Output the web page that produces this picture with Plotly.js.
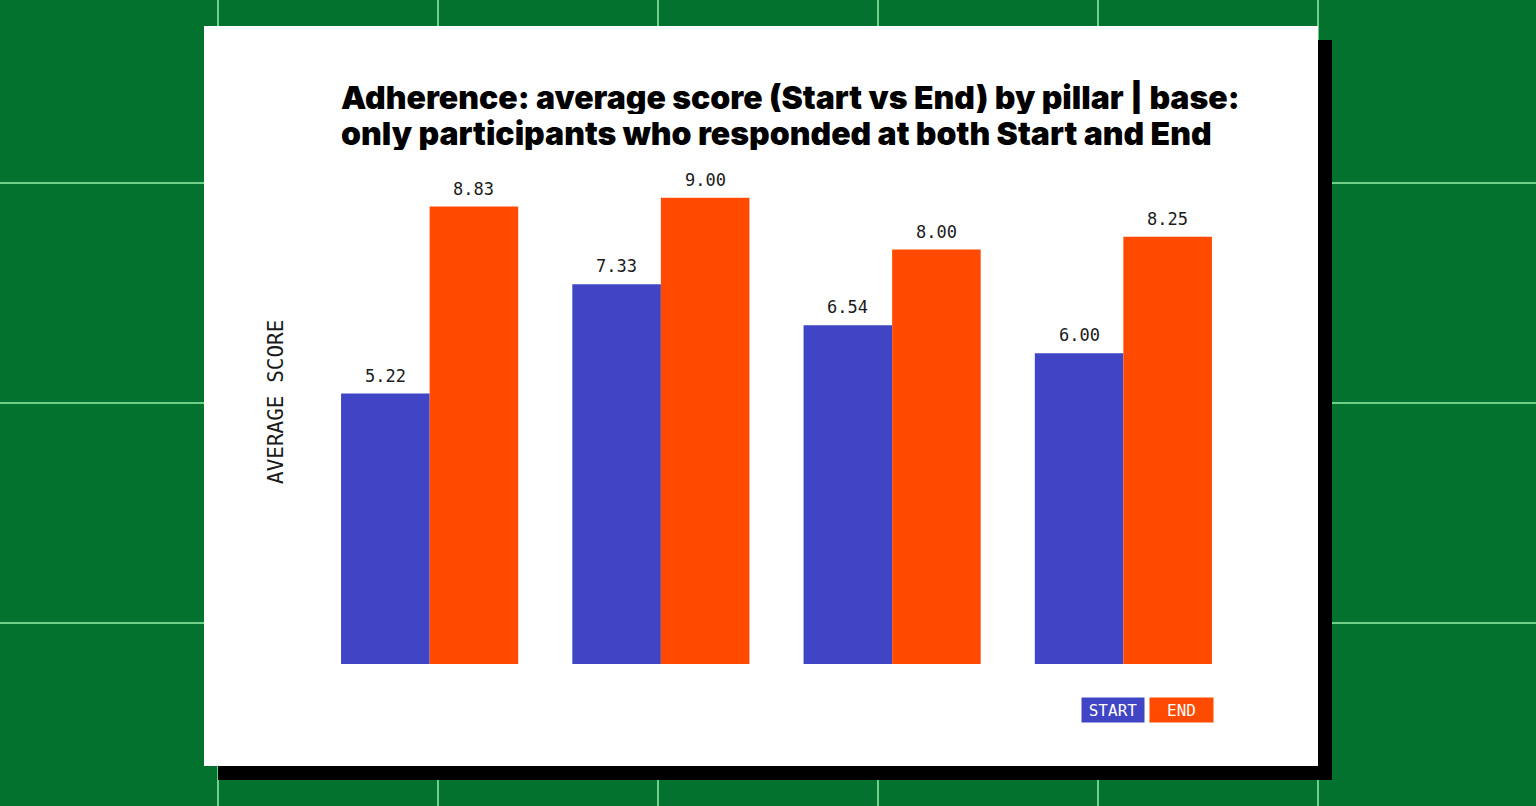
<!DOCTYPE html>
<html>
<head>
<meta charset="utf-8">
<script src="https://cdn.plot.ly/plotly-3.0.1.min.js"></script>
<style>
  html, body { margin: 0; padding: 0; width: 1536px; height: 806px; overflow: hidden; }
  body {
    background-color: #03722f;
    background-image:
      linear-gradient(to right, #6fcf86 0, #6fcf86 2px, transparent 2px),
      linear-gradient(to bottom, #6fcf86 0, #6fcf86 2px, transparent 2px);
    background-size: 220px 100%, 100% 220px;
    background-position: 217px 0, 0 182px;
    position: relative;
  }
  #shadow { position: absolute; left: 218px; top: 40px; width: 1114px; height: 740px; background: #000; }
  #card { position: absolute; left: 204px; top: 26px; width: 1114px; height: 740px; background: #fff; }
  #chart { position: absolute; left: 0; top: 0; width: 1536px; height: 806px; }
</style>
</head>
<body>
<div id="shadow"></div>
<div id="card"></div>
<div id="chart"></div>
<script>
// Average adherence score per pillar, Start vs End
const pillars = ["Pillar 1", "Pillar 2", "Pillar 3", "Pillar 4"];
const startScores = [5.22, 7.33, 6.54, 6.00];
const endScores = [8.83, 9.00, 8.00, 8.25];
const seriesNames = ["START", "END"];
const titleLines = [
  "Adherence: average score (Start vs End) by pillar | base:",
  "only participants who responded at both Start and End"
];

const BLUE = "#3f45c4";
const ORANGE = "#ff4a00";
const MONO = "DejaVu Sans Mono, Liberation Mono, monospace";
const HEAVY = "Inter, Roboto, sans-serif";

const W = 1536, H = 806;
const plotL = 314, plotR = 1239, plotT = 172, plotB = 664;
const pw = plotR - plotL, ph = plotB - plotT;
const px = x => (x - plotL) / pw;
const py = y => (plotB - y) / ph;

const labelFont = { family: MONO, size: 17, color: "#1a1a1a" };

const traces = [
  { type: "bar", name: seriesNames[0], x: pillars, y: startScores, marker: { color: BLUE }, hoverinfo: "skip", offsetgroup: "s" },
  { type: "bar", name: seriesNames[1], x: pillars, y: endScores, marker: { color: ORANGE }, hoverinfo: "skip", offsetgroup: "e" }
];

const bargap = 0.234;
const half = (1 - bargap) / 4; // centre offset of each bar within its group

// value labels above each bar
const valueLabels = [];
pillars.forEach((p, i) => {
  [[startScores, -half], [endScores, half]].forEach(([vals, off]) => {
    valueLabels.push({
      x: i + off, y: vals[i], xref: "x", yref: "y",
      text: vals[i].toFixed(2), showarrow: false,
      xanchor: "center", yanchor: "middle", yshift: 18,
      font: labelFont
    });
  });
});

// two-line heading with tight leading
const titleAnnotations = titleLines.map((t, i) => ({
  text: t, xref: "paper", yref: "paper",
  x: px(339), y: py(97 + i * 36), xanchor: "left", yanchor: "middle",
  height: 34, valign: "middle",
  showarrow: false,
  font: { family: HEAVY, size: 32, weight: 900, color: "#000" }
}));

const layout = {
  width: W, height: H,
  paper_bgcolor: "rgba(0,0,0,0)",
  plot_bgcolor: "rgba(0,0,0,0)",
  margin: { l: plotL, r: W - plotR, t: plotT, b: H - plotB, pad: 0 },
  showlegend: false,
  barmode: "group",
  bargap: bargap,
  bargroupgap: 0,
  xaxis: { type: "category", range: [-0.5, pillars.length - 0.5], showticklabels: false, ticks: "", showgrid: false, zeroline: false, showline: false },
  yaxis: { range: [0, ph / 51.8], showticklabels: false, ticks: "", showgrid: false, zeroline: false, showline: false },
  annotations: [
    ...titleAnnotations,
    ...valueLabels,
    {
      text: "AVERAGE SCORE", xref: "paper", yref: "paper",
      x: px(276), y: py(402), textangle: -90, showarrow: false,
      xanchor: "center", yanchor: "middle",
      font: { family: MONO, size: 21, color: "#1a1a1a" }
    },
    {
      text: seriesNames[0], xref: "paper", yref: "paper",
      x: px(1081), y: py(710), xanchor: "left", yanchor: "middle",
      width: 62, height: 24, bgcolor: BLUE, borderpad: 0, showarrow: false,
      font: { family: MONO, size: 16, color: "#fff" }
    },
    {
      text: seriesNames[1], xref: "paper", yref: "paper",
      x: px(1149), y: py(710), xanchor: "left", yanchor: "middle",
      width: 63, height: 24, bgcolor: ORANGE, borderpad: 0, showarrow: false,
      font: { family: MONO, size: 16, color: "#fff" }
    }
  ]
};

Plotly.newPlot("chart", traces, layout, { displayModeBar: false, staticPlot: true });
</script>
</body>
</html>
